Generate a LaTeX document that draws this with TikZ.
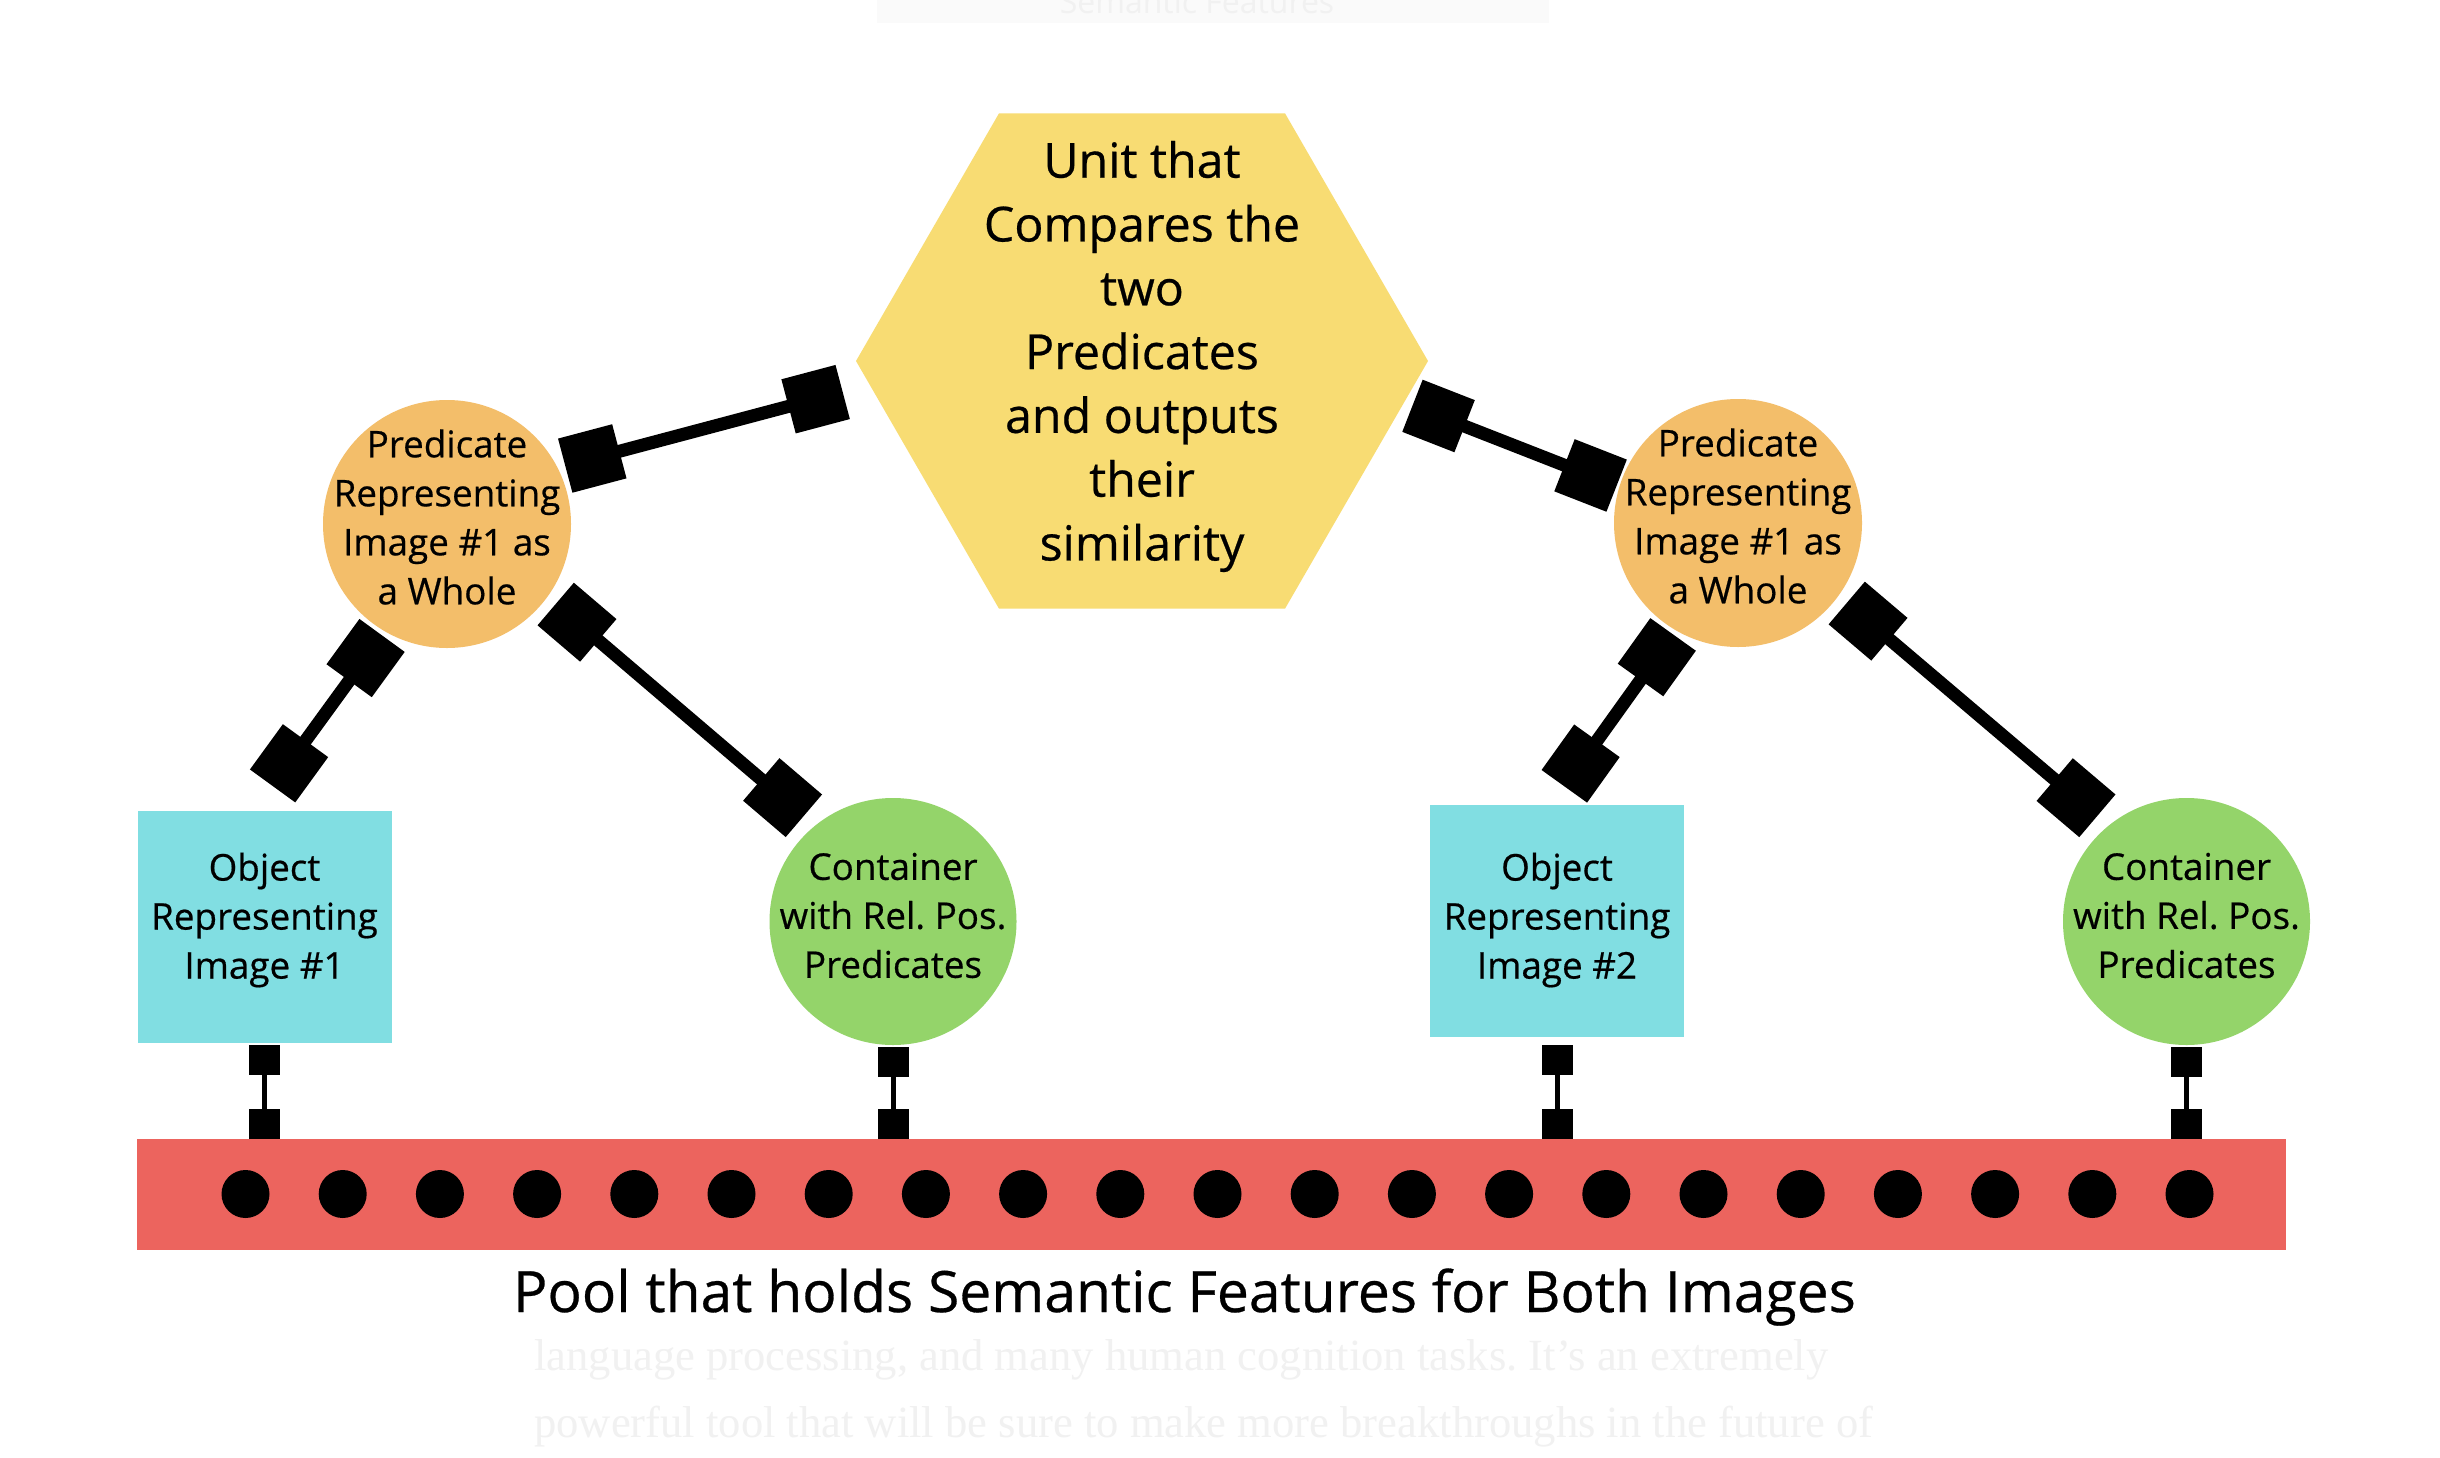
\documentclass[tikz,border=0pt]{standalone}
\usepackage{fontspec}
\setmainfont{Open Sans}[FakeBold=0.5]
\newfontfamily\serifbg{Liberation Serif}
\newfontfamily\sansbg{Open Sans}
\usetikzlibrary{arrows.meta,shapes.geometric}
\definecolor{hexY}{HTML}{F8DC73}
\definecolor{predO}{HTML}{F3BE6A}
\definecolor{objC}{HTML}{81DEE2}
\definecolor{contG}{HTML}{94D46A}
\definecolor{poolR}{HTML}{EC645E}
\definecolor{ghost}{HTML}{F1F1F1}
\definecolor{ghostbg}{HTML}{FAFAFA}
\frenchspacing
\begin{document}
\begin{tikzpicture}[x=1pt,y=-1pt,
  hexa/.style={regular polygon, regular polygon sides=6, minimum size=572pt, inner sep=0pt, outer sep=0pt, fill=hexY},
  pred/.style={circle, minimum size=248pt, inner sep=0pt, outer sep=0pt, fill=predO},
  cont/.style={circle, minimum size=247pt, inner sep=0pt, outer sep=0pt, fill=contG},
  obj/.style={rectangle, minimum width=254pt, minimum height=232pt, inner sep=0pt, outer sep=0pt, fill=objC},
  pool/.style={rectangle, minimum width=2149pt, minimum height=111pt, inner sep=0pt, outer sep=0pt, fill=poolR},
  txt/.style={align=center, inner sep=0pt, font=\fontsize{36.8}{49}\selectfont},
  bigtxt/.style={align=center, inner sep=0pt, font=\fontsize{48.3}{63.8}\selectfont},
  captxt/.style={inner sep=0pt, anchor=base, font=\fontsize{57}{62}\selectfont},
  ghosttxt/.style={inner sep=0pt, text=ghost},
  bigc/.style={line width=13pt, arrows={Square[length=56pt,width=56pt]-Square[length=56pt,width=56pt]}},
  smallc/.style={line width=5pt, arrows={Square[length=30pt,width=31pt]-Square[length=30pt,width=31pt]}},
]
\fill[white] (0,0) rectangle (2440,1458);
\useasboundingbox (0,0) rectangle (2440,1458);

% faint background texts
\begin{scope}
\clip (0,0) rectangle (2440,1458);
\fill[ghostbg] (877,-5) rectangle (1549,23);
\node[ghosttxt, anchor=base, font=\sansbg\fontsize{32}{32}\selectfont] (ghostT) at (1197,14) {Semantic Features};
\end{scope}
\node[ghosttxt, anchor=base west, font=\serifbg\fontsize{44.6}{44}\selectfont] (ghostA) at (534,1370) {language processing, and many human cognition tasks. It’s an extremely};
\node[ghosttxt, anchor=base west, font=\serifbg\fontsize{44.6}{44}\selectfont] (ghostB) at (534,1437) {powerful tool that will be sure to make more breakthroughs in the future of};

% shapes
\node[hexa] (hex) at (1142,361) {};
\node[bigtxt] (hext) at (1142,356.5) {Unit that\\Compares the\\two\\Predicates\\and outputs\\their\\similarity};

\node[pred] (oL) at (447,524) {};
\node[txt] (oLt) at (447,517) {Predicate\\Representing\\Image \#1 as\\a Whole};
\node[pred] (oR) at (1738,523) {};
\node[txt] (oRt) at (1738,516) {Predicate\\Representing\\Image \#1 as\\a Whole};

\node[obj] (rL) at (264.5,927) {};
\node[txt] (rLt) at (264.5,920) {Object\\Representing\\Image \#1};
\node[obj] (rR) at (1557,921) {};
\node[txt] (rRt) at (1557,920) {Object\\Representing\\Image \#2};

\node[cont] (gL) at (893,921.5) {};
\node[txt] (gLt) at (893,915.5) {Container\\with Rel. Pos.\\Predicates};
\node[cont] (gR) at (2186.5,921.5) {};
\node[txt] (gRt) at (2186.5,915.5) {Container\\with Rel. Pos.\\Predicates};

\node[pool] (pool) at (1211.5,1194.5) {};
\foreach \i in {0,...,20} \fill (245.5+97.2*\i,1194) circle[radius=24pt];

\node[captxt] (cap) at (1184.5,1312) {Pool that holds Semantic Features for Both Images};

% connectors
\draw[bigc, shorten <=8pt, shorten >=28pt] (oL.27) -- (hex.185);
\draw[bigc, shorten <=5pt, shorten >=31pt] (oL.240) -- (rL.95);
\draw[bigc, shorten <=11pt, shorten >=15pt] (oL.324) -- (gL.129);
\draw[bigc, shorten <=9pt, shorten >=3pt] (hex.351) -- (oR.163);
\draw[bigc, shorten <=5pt, shorten >=23pt] (oR.240) -- (rR.93);
\draw[bigc, shorten <=11pt, shorten >=15pt] (oR.324) -- (gR.129);

\draw[smallc, shorten <=2pt] (rL.south) -- (rL.south |- pool.north);
\draw[smallc, shorten <=2pt] (gL.south) -- (gL.south |- pool.north);
\draw[smallc, shorten <=8pt] (rR.south) -- (rR.south |- pool.north);
\draw[smallc, shorten <=2pt] (gR.south) -- (gR.south |- pool.north);
\end{tikzpicture}
\end{document}
